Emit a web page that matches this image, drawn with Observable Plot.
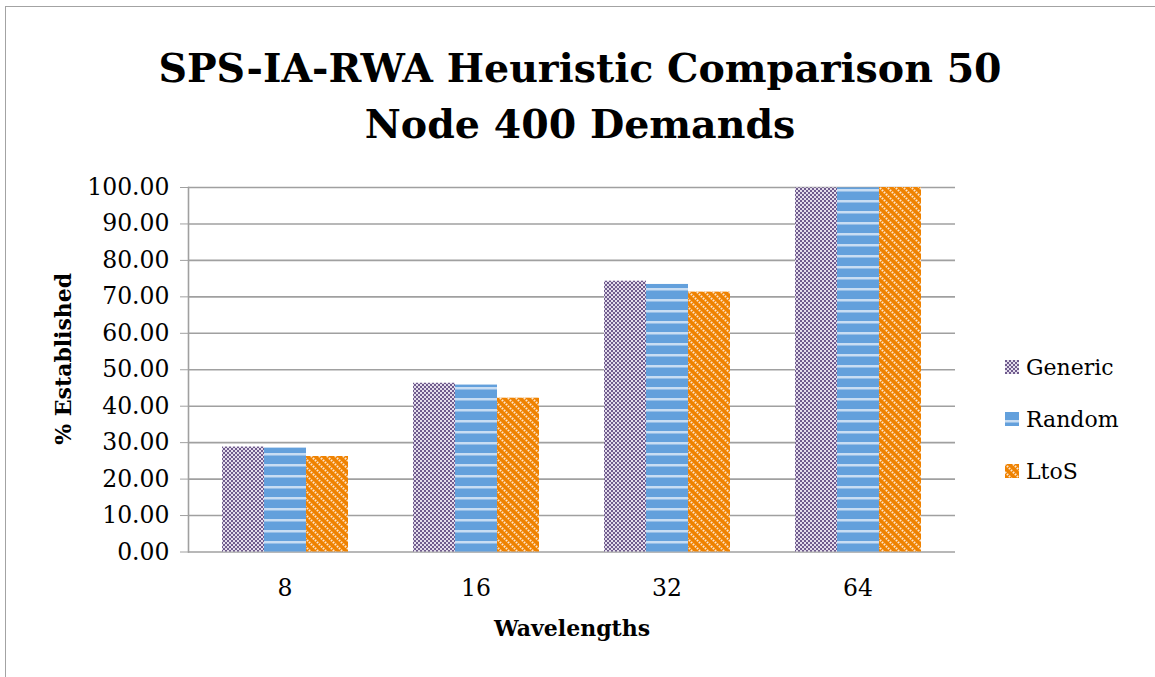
<!DOCTYPE html>
<html>
<head>
<meta charset="utf-8">
<script src="https://cdn.jsdelivr.net/npm/d3@7"></script>
<script src="https://cdn.jsdelivr.net/npm/@observablehq/plot@0.6"></script>
<style>
  html, body { margin: 0; padding: 0; background: #fff; }
  #page { position: relative; width: 1155px; height: 677px; overflow: hidden; background: #fff; font-family: "DejaVu Serif", serif; }
  #border { position: absolute; left: 5px; top: 6px; width: 1200px; height: 700px; border-left: 1.5px solid #a3a3a3; border-top: 1.5px solid #a3a3a3; }
  #title { position: absolute; left: 0; top: 40px; width: 1160px; text-align: center; font-family: "DejaVu Serif", serif; font-weight: bold; font-size: 39.5px; line-height: 56px; color: #000; }
  .layer { position: absolute; left: 0; top: 170px; }
  .layer text { fill: #000; }
  #legend { position: absolute; left: 1005px; top: 341px; font-family: "DejaVu Serif", serif; font-size: 22px; color: #000; }
  #legend .row { display: flex; align-items: center; height: 52px; }
  #legend svg { margin-right: 7px; }
</style>
</head>
<body>
<svg width="0" height="0" style="position:absolute">
  <defs>
    <pattern id="pGeneric" width="4" height="4" patternUnits="userSpaceOnUse">
      <rect width="4" height="4" fill="#e4ddec"/>
      <rect width="2" height="2" fill="#6f5b8d"/>
      <rect x="2" y="2" width="2" height="2" fill="#6f5b8d"/>
    </pattern>
    <pattern id="pRandom" width="12" height="11" patternUnits="userSpaceOnUse">
      <rect width="12" height="11" fill="#63a0dc"/>
      <rect y="8" width="12" height="2.5" fill="#c8ddf3"/>
    </pattern>
    <pattern id="pLtoS" width="8" height="8" patternUnits="userSpaceOnUse">
      <rect width="8" height="8" fill="#ef8200"/>
      <path d="M-2,-2 L10,10 M-2,6 L2,10 M6,-2 L10,2" stroke="#fde6cf" stroke-width="2.2" stroke-dasharray="1.6 1.2"/>
    </pattern>
  </defs>
</svg>
<div id="page">
  <div id="border"></div>
  <div id="title">SPS-IA-RWA Heuristic Comparison 50<br>Node 400 Demands</div>
  <div id="chart"></div>
  <div id="legend"></div>
</div>
<script>
// ---- data ----
const wavelengths = ["8", "16", "32", "64"];
const seriesNames = ["Generic", "Random", "LtoS"];
const generic = [28.8, 46.3, 74.3, 99.9];
const random  = [28.5, 45.8, 73.4, 99.9];
const ltos    = [26.2, 42.2, 71.3, 100.0];
const yTicks = [0, 10, 20, 30, 40, 50, 60, 70, 80, 90, 100];
const patternFills = ["url(#pGeneric)", "url(#pRandom)", "url(#pLtoS)"];

const seriesValues = [generic, random, ltos];
const rows = [];
wavelengths.forEach((w, i) => {
  seriesNames.forEach((s, j) => rows.push({wavelength: w, series: s, value: seriesValues[j][i]}));
});

const W = 970, H = 480;
const margins = {marginLeft: 188, marginRight: 15, marginTop: 17, marginBottom: 98.5};
const bandOpts = {paddingInner: 0.333, paddingOuter: 0.1667};

// background layer: axes, gridlines, labels
const bg = Plot.plot({
  width: W, height: H, ...margins,
  style: {color: "#a0a0a0", fontFamily: "DejaVu Serif, serif", fontSize: "23.5px", background: "transparent"},
  x: {domain: wavelengths, type: "band", ...bandOpts, tickSize: 0, tickPadding: 27, label: null},
  y: {domain: [0, 100], ticks: yTicks, tickFormat: d3.format(".2f"), tickSize: 8, tickPadding: 11, label: null},
  marks: [
    Plot.ruleY(yTicks, {stroke: "#a0a0a0", strokeWidth: 1.6}),
    Plot.frame({anchor: "left", stroke: "#a0a0a0", strokeWidth: 1.6}),
    Plot.text(["Wavelengths"], {frameAnchor: "bottom", dy: 84, fontWeight: "bold", fontSize: 22, fill: "#000"}),
    Plot.text(["% Established"], {frameAnchor: "left", textAnchor: "middle", dx: -125, dy: -11, rotate: -90, fontWeight: "bold", fontSize: 22, fill: "#000"})
  ]
});
bg.classList.add("layer");

// bars layer (faceted by wavelength)
const bars = Plot.plot({
  width: W, height: H, ...margins,
  style: {background: "transparent"},
  facet: {data: rows, x: "wavelength"},
  fx: {domain: wavelengths, ...bandOpts, axis: null, label: null},
  x: {domain: seriesNames, padding: 0, axis: null},
  y: {domain: [0, 100], axis: null},
  color: {type: "ordinal", domain: seriesNames, range: patternFills},
  marks: [
    Plot.barY(rows, {x: "series", y: "value", fill: "series"})
  ]
});
bars.classList.add("layer");

const chart = document.getElementById("chart");
chart.appendChild(bg);
chart.appendChild(bars);

// legend
const legend = document.getElementById("legend");
seriesNames.forEach((s, i) => {
  const row = document.createElement("div");
  row.className = "row";
  row.innerHTML = `<svg width="14" height="14"><rect width="14" height="14" fill="${patternFills[i]}"/></svg><span>${s}</span>`;
  legend.appendChild(row);
});
</script>
</body>
</html>
